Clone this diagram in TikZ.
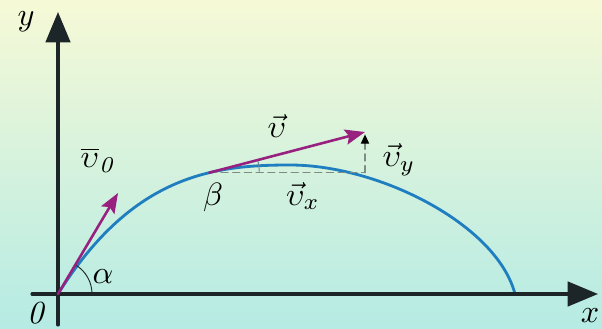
\documentclass[tikz,border=0pt]{standalone}
\usepackage{amssymb, amsmath}
\usepackage{tikz}
\usetikzlibrary{arrows.meta}
\definecolor{bgtop}{HTML}{F6F9D6}
\definecolor{bgmid}{HTML}{DAF2DF}
\definecolor{bgbot}{HTML}{B5EBE4}
\definecolor{vecmag}{HTML}{98207F}
\definecolor{pathblue}{HTML}{1F7EC0}
\definecolor{axisdark}{HTML}{1C2628}
\definecolor{dashgray}{HTML}{7F8C86}
\tikzstyle{axis} = [draw=axisdark, line width=2.6pt, -{Triangle[length=26pt,width=21pt]}]
\tikzstyle{vec} = [draw=vecmag, line width=2.2pt, -{Stealth[length=17pt,width=13pt,inset=3pt]}]
\tikzstyle{proj} = [draw=dashgray, line width=1.2pt, dash pattern=on 6pt off 4pt]
\tikzstyle{lbl} = [scale=2.75, inner sep=0pt]

\begin{document}
\begin{tikzpicture}[x=0.03cm,y=0.03cm,line cap=round,line join=round]
		\shade[top color=bgtop, middle color=bgmid, bottom color=bgbot] (0,0) rectangle (602,328);
		\useasboundingbox (0,0) rectangle (602,328);
		\coordinate (O) at (58,34);
		\coordinate (L) at (515,34);
		\coordinate (P) at (290,163);
		\coordinate (V0) at (118,135);
		\coordinate (V) at (365,196);
		\coordinate (xs) at (32,34);
		\coordinate (xe) at (598,34);
		\coordinate (ys) at (58,3);
		\coordinate (ye) at (58,316);
		% trajectory
		\draw[pathblue, line width=2.4pt] (O) .. controls (133,154) and (215,163) .. (P) coordinate[pos=0.65] (B)
			.. controls (380,163) and (497,103) .. (L);
		% axes
		\draw[axis] (xs)--(xe);
		\draw[axis] (ys)--(ye);
		% angles
		\draw[axisdark, line width=0.8pt] (O) ++(34,0) arc[start angle=0, end angle=59, radius=34];
		\draw[dashgray!70!pathblue, line width=0.8pt] (B) ++(50,0) arc[start angle=0, end angle=15, radius=50];
		% components
		\draw[proj] (B)--(B -| V);
		\draw[proj, shorten >=2pt, -{Triangle[length=8pt,width=7pt,color=black]}] (B -| V)--(V);
		\draw[vec] (B)--(V);
		\draw[vec] (O)--(V0);
		% labels
		\node[lbl] at (26,306) {$y$};
		\node[lbl] at (590,12) {$x$};
		\node[lbl] at (36,15) {\textit{0}};
		\node[lbl] at (103,51) {$\alpha$};
		\node[lbl] at (99,168) {$\overline{\upsilon}_{\mathit{0}}$};
		\node[lbl] at (213,131) {$\beta$};
		\node[lbl] at (277,202) {$\vec{\upsilon}$};
		\node[lbl] at (303,132) {$\vec{\upsilon}_x$};
		\node[lbl] at (399,168) {$\vec{\upsilon}_y$};
	\end{tikzpicture}
\end{document}
